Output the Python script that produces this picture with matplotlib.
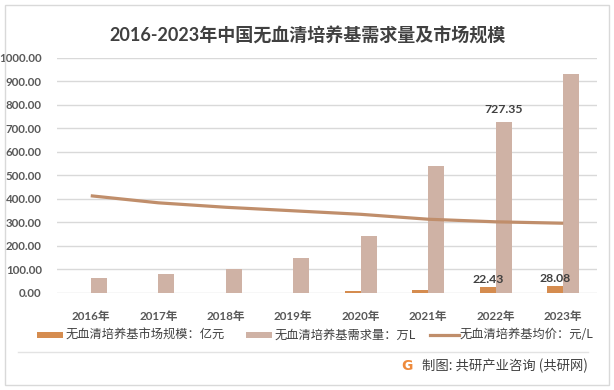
import matplotlib
matplotlib.use("Agg")
import matplotlib.pyplot as plt
from matplotlib.patches import Rectangle
from matplotlib.lines import Line2D
import numpy as np

years = ["2016年", "2017年", "2018年", "2019年", "2020年", "2021年", "2022年", "2023年"]
market_size = [0, 0, 0, 0, 5.5, 12.5, 22.43, 28.08]          # 亿元
demand = [61, 78, 103, 146, 242, 540, 727.35, 932]            # 万L
avg_price = [413, 383, 364, 349, 334, 313, 302, 296]          # 元/L
yticks = [0, 100, 200, 300, 400, 500, 600, 700, 800, 900, 1000]
labels_market = {6: "22.43", 7: "28.08"}
labels_demand = {6: "727.35"}

C_ORANGE = "#D58C4F"
C_PINK = "#CFB2A5"
C_LINE = "#C08E6B"
C_TEXT = "#595959"
C_DARK = "#404040"
FONT = ["Lato", "Noto Sans CJK SC", "DejaVu Sans"]
CJK = ["Noto Sans CJK SC", "DejaVu Sans"]

plt.rcParams["font.family"] = FONT

W, H = 614, 390
fig = plt.figure(figsize=(W / 100, H / 100), dpi=100)
fig.patch.set_facecolor("white")

def fx(px):
    return px / W

def fy(py):
    return 1 - py / H

# outer border
fig.patches.append(Rectangle((fx(4.5), fy(385)), fx(609) - fx(4.5), fy(5) - fy(385),
                             transform=fig.transFigure, fill=False,
                             edgecolor="#D9D9D9", linewidth=1.0))

ax = fig.add_axes([fx(57), fy(292.7), fx(597) - fx(57), fy(58) - fy(292.7)])
x = np.arange(len(years))
bw = 0.237
ax.bar(x - bw / 2, market_size, width=bw, color=C_ORANGE, zorder=2)
ax.bar(x + bw / 2, demand, width=bw, color=C_PINK, zorder=2)
ax.plot(x, avg_price, color=C_LINE, linewidth=2.3, solid_capstyle="butt",
        solid_joinstyle="round", zorder=3)

for i, t in labels_market.items():
    ax.text(x[i] - bw / 2, market_size[i] + 10, t, ha="center", va="bottom",
            fontsize=8.8, fontweight="bold", color=C_DARK, zorder=4)
for i, t in labels_demand.items():
    ax.text(x[i] + bw / 2, demand[i] + 28, t, ha="center", va="bottom",
            fontsize=8.8, fontweight="bold", color=C_DARK, zorder=4)

ax.set_xlim(-0.5, len(years) - 0.5)
ax.set_ylim(0, 1000)
ax.set_yticks(yticks)
ax.set_yticklabels([f"{v:.2f}" for v in yticks], fontsize=8.3,
                   fontweight="bold", color=C_TEXT)
ax.set_xticks(x)
ax.set_xticklabels(years, fontsize=8.4, fontweight="bold", color=C_TEXT)
ax.tick_params(axis="both", length=0)
ax.tick_params(axis="y", pad=11)
ax.tick_params(axis="x", pad=13)
ax.grid(axis="y", color="#D9D9D9", linewidth=1.0, zorder=0)
ax.set_axisbelow(True)
for s in ax.spines.values():
    s.set_visible(False)
ax.set_facecolor("none")

# title
fig.text(fx(307), fy(36), "2016-2023年中国无血清培养基需求量及市场规模",
         ha="center", va="center", fontsize=13, fontweight="bold",
         color=C_DARK, family=FONT)

# legend (manual)
ly = 335
fig.patches.append(Rectangle((fx(37), fy(ly + 3)), fx(26), fy(0) - fy(6),
                             transform=fig.transFigure, color=C_ORANGE, lw=0))
fig.text(fx(66), fy(ly), "无血清培养基市场规模：亿元", ha="left", va="center",
         fontsize=8.8, color=C_DARK, family=CJK)
fig.patches.append(Rectangle((fx(246), fy(ly + 3)), fx(26), fy(0) - fy(6),
                             transform=fig.transFigure, color=C_PINK, lw=0))
fig.text(fx(275), fy(ly), "无血清培养基需求量：万L", ha="left", va="center",
         fontsize=8.8, color=C_DARK, family=CJK)
fig.lines.append(Line2D([fx(430), fx(459)], [fy(ly), fy(ly)], transform=fig.transFigure,
                        color=C_LINE, linewidth=2.3))
fig.text(fx(460), fy(ly), "无血清培养基均价：元/L", ha="left", va="center",
         fontsize=8.8, color=C_DARK, family=CJK)

# separator
fig.lines.append(Line2D([fx(18), fx(588)], [fy(352), fy(352)], transform=fig.transFigure,
                        color="#E3E3E3", linewidth=1.0))

# source
fig.text(fx(406.5), fy(366), "G", ha="center", va="center", fontsize=10,
         fontweight="bold", color="#EE8A3C", family=["DejaVu Sans"])
fig.text(fx(422), fy(366), "制图: 共研产业咨询 (共研网)", ha="left", va="center",
         fontsize=9.6, color=C_DARK, family=CJK)

fig.savefig("out.png", dpi=100, facecolor="white")
